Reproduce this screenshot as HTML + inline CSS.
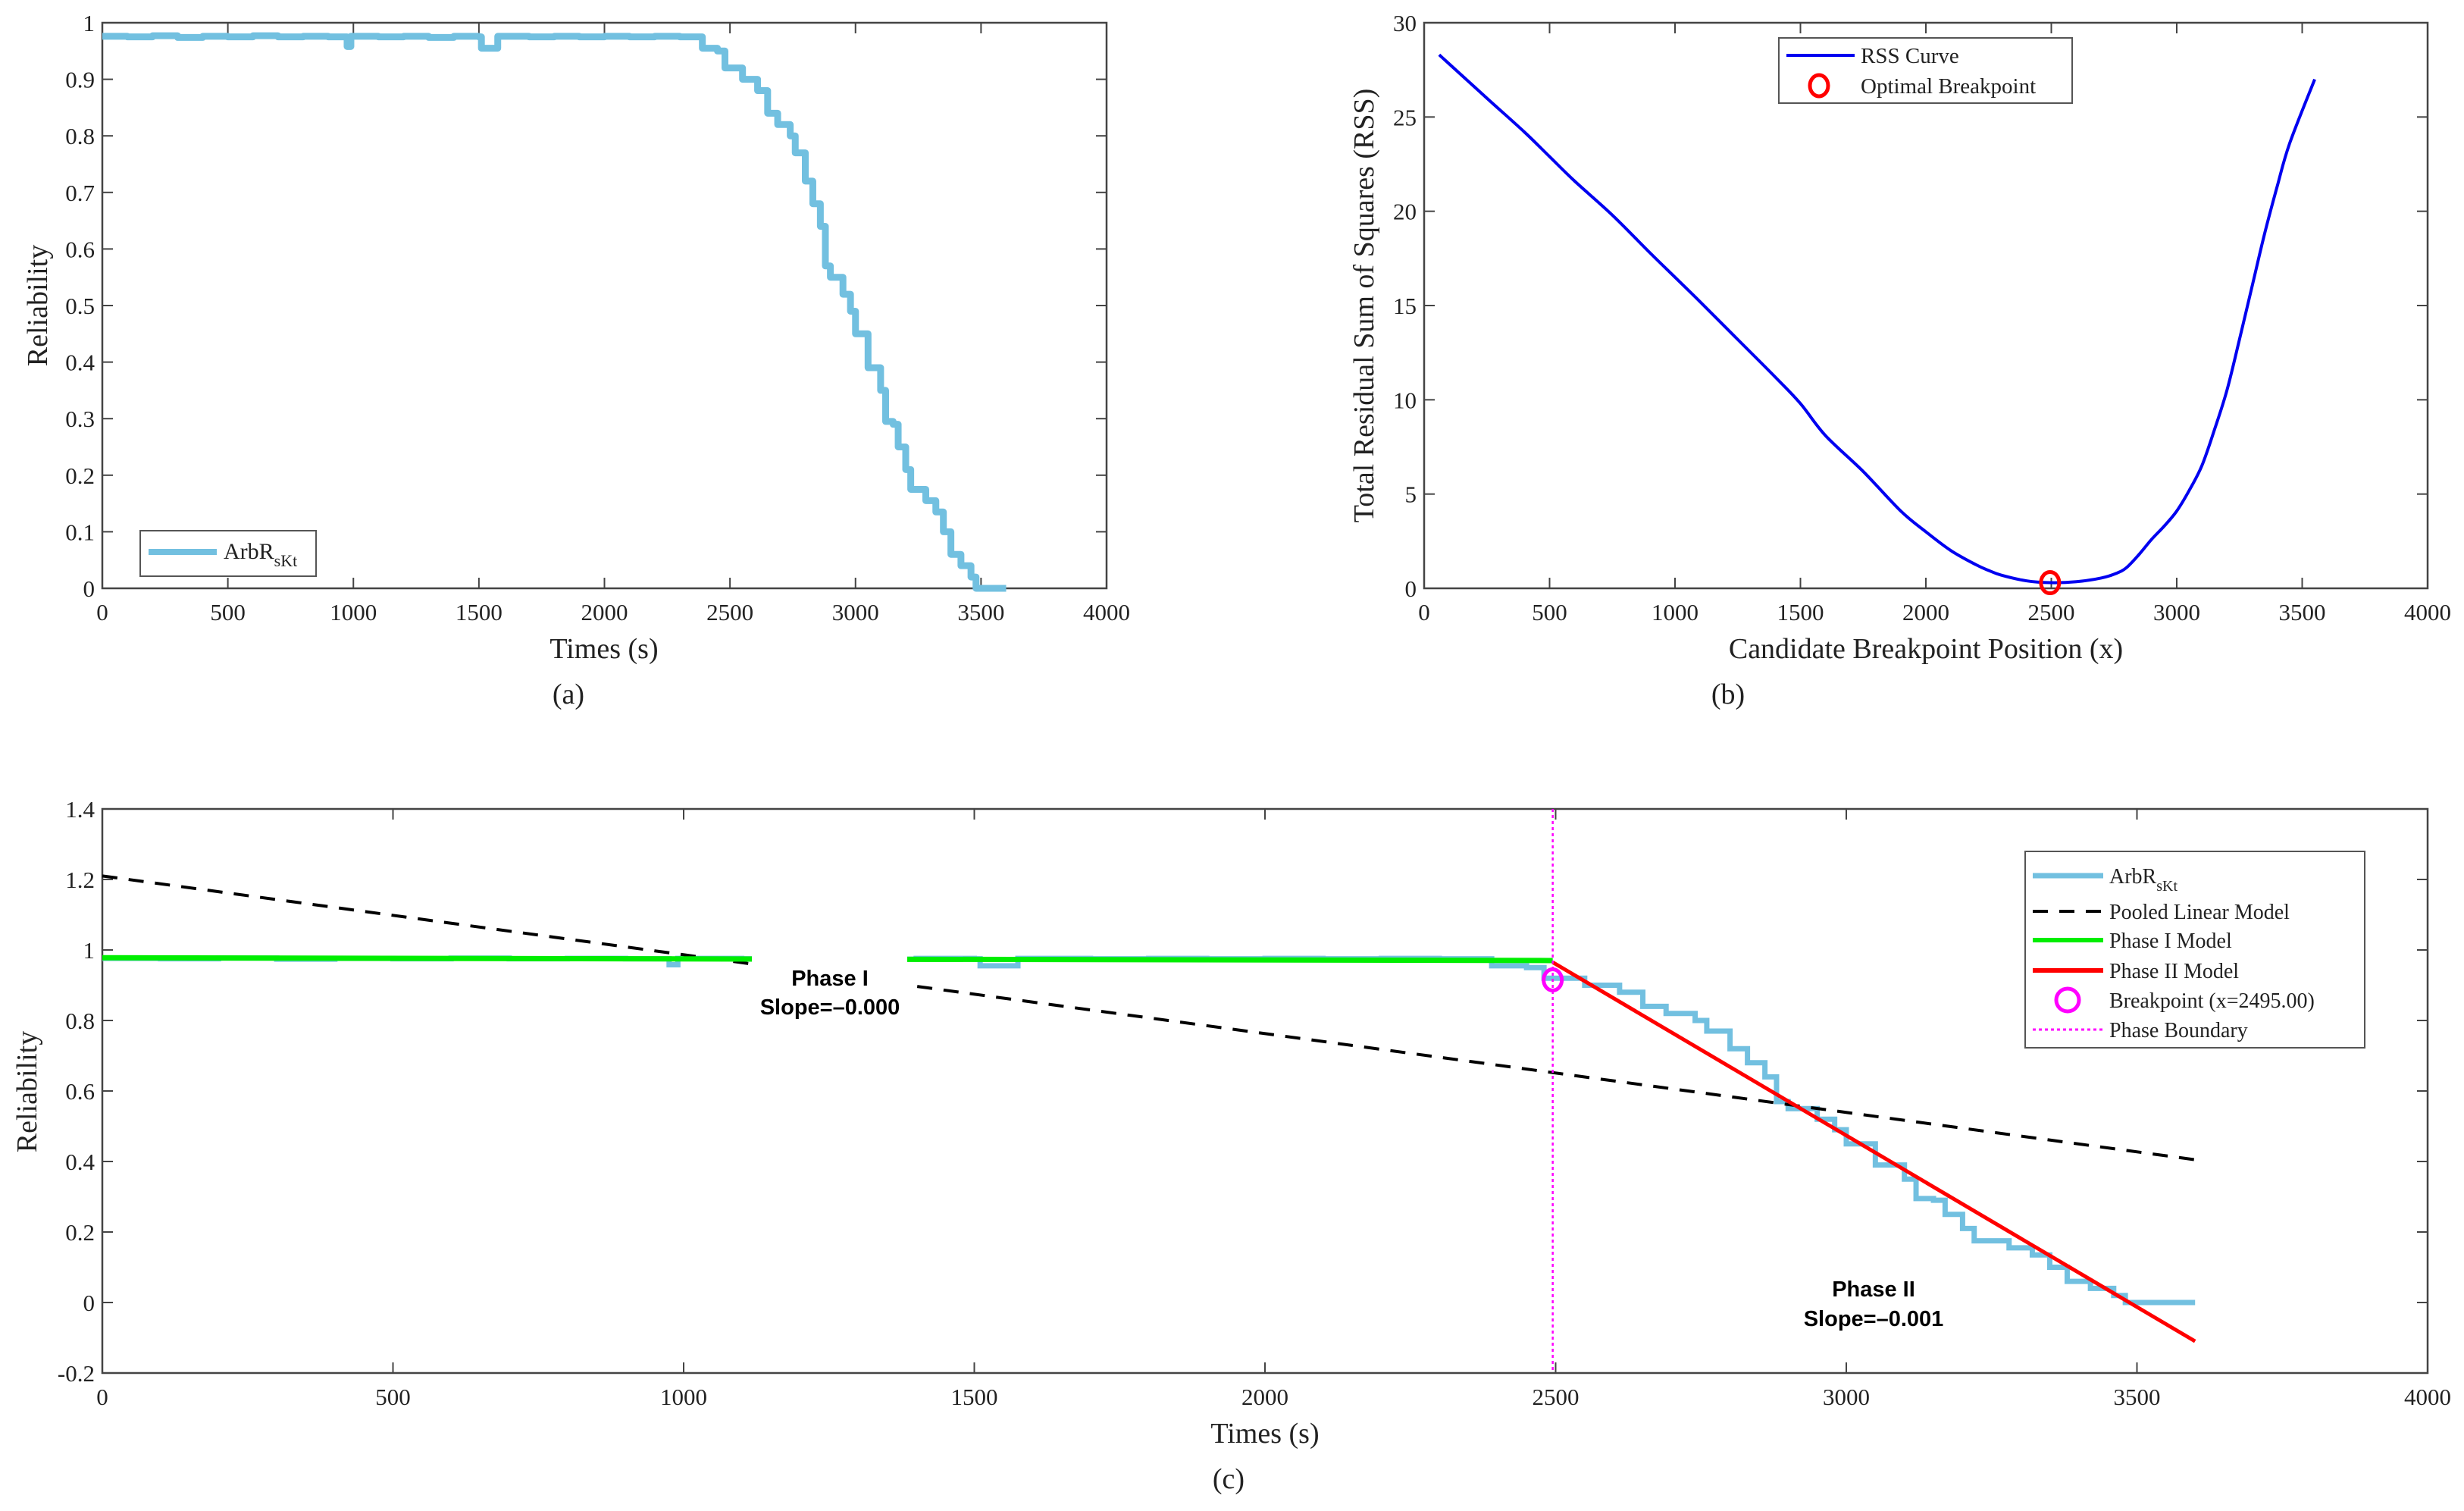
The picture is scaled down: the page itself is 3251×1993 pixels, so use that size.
<!DOCTYPE html>
<html><head><meta charset="utf-8"><style>
html,body{margin:0;padding:0;background:#fff;}
svg{display:block;}
text{font-family:"Liberation Serif",serif;fill:#222;}
.tk{font-size:31px;}
.ttl{font-size:38px;}
.bold{font-family:"Liberation Sans",sans-serif;font-weight:bold;font-size:29px;fill:#000;}
</style></head><body>
<svg id="fig" width="3251" height="1993" viewBox="0 0 3251 1993" xmlns="http://www.w3.org/2000/svg"></svg>
<script>
// ---- data ----
const relTimes = [0,100,200,300,400,500,600,700,800,900,960,975,990,1100,1200,1300,1400,1500,1510,1560,1575,1700,1800,1900,2000,2100,2200,2300,2380,2390,2450,2480,2550,2610,2650,2690,2740,2760,2800,2830,2860,2880,2900,2950,2980,3000,3050,3100,3120,3150,3170,3200,3220,3280,3320,3350,3380,3420,3460,3480,3600];
const relValues = [0.976,0.975,0.977,0.974,0.976,0.975,0.977,0.975,0.976,0.975,0.975,0.958,0.976,0.975,0.976,0.974,0.976,0.975,0.955,0.955,0.976,0.975,0.976,0.975,0.976,0.975,0.976,0.975,0.975,0.955,0.95,0.92,0.9,0.88,0.84,0.82,0.8,0.77,0.72,0.68,0.64,0.57,0.55,0.52,0.49,0.45,0.39,0.35,0.295,0.29,0.25,0.21,0.175,0.155,0.135,0.1,0.06,0.04,0.02,0,0];
const rssX = [60,250,400,500,600,750,900,1000,1100,1250,1400,1500,1600,1750,1900,2000,2100,2200,2250,2300,2400,2495,2600,2700,2760,2800,2850,2900,2950,3000,3050,3100,3150,3200,3250,3300,3350,3400,3450,3550];
const rssY = [28.3,26.0,24.2,22.9,21.6,19.8,17.8,16.5,15.2,13.2,11.2,9.8,8.1,6.2,4.1,3.0,2.0,1.25,0.95,0.7,0.4,0.3,0.35,0.55,0.8,1.1,1.8,2.6,3.3,4.1,5.2,6.5,8.4,10.5,13.2,16,18.8,21.3,23.6,27];
const xTicks = [0,500,1000,1500,2000,2500,3000,3500,4000];
const aYTicks = [0,0.1,0.2,0.3,0.4,0.5,0.6,0.7,0.8,0.9,1];
const bYTicks = [0,5,10,15,20,25,30];
const cYTicks = [-0.2,0,0.2,0.4,0.6,0.8,1,1.2,1.4];
const pooledX = [0,3600];
const pooledY = [1.21,0.405];
const phase1X = [0,2495];
const phase1Y = [0.978,0.97];
const phase2X = [2495,3600];
const phase2Y = [0.965,-0.11];
const breakX = 2495, breakY = 0.915, rssBreakVal = 0.3;

const NS="http://www.w3.org/2000/svg";
const svg=document.getElementById('fig');
function mk(tag,attrs,parent){const e=document.createElementNS(NS,tag);for(const k in attrs)e.setAttribute(k,attrs[k]);(parent||svg).appendChild(e);return e;}
function txt(s,attrs,parent){const e=mk('text',attrs,parent);e.textContent=s;return e;}
function axes(L,R,T,B,xmin,xmax,ymin,ymax){return {x:v=>L+(v-xmin)/(xmax-xmin)*(R-L),y:v=>B-(v-ymin)/(ymax-ymin)*(B-T),L,R,T,B};}
function frame(ax,g,xt,yt,fmtY){
  mk('rect',{x:ax.L,y:ax.T,width:ax.R-ax.L,height:ax.B-ax.T,fill:'none',stroke:'#444','stroke-width':2.5},g);
  xt.forEach(v=>{const X=ax.x(v);
    mk('line',{x1:X,x2:X,y1:ax.B,y2:ax.B-14,stroke:'#444','stroke-width':2},g);
    mk('line',{x1:X,x2:X,y1:ax.T,y2:ax.T+14,stroke:'#444','stroke-width':2},g);
    const t=txt(String(v),{x:X,y:ax.B+42,'text-anchor':'middle',class:'tk'},g);
    
    });
  yt.forEach(v=>{const Y=ax.y(v);
    mk('line',{x1:ax.L,x2:ax.L+14,y1:Y,y2:Y,stroke:'#444','stroke-width':2},g);
    mk('line',{x1:ax.R,x2:ax.R-14,y1:Y,y2:Y,stroke:'#444','stroke-width':2},g);
    const t=txt(fmtY(v),{x:ax.L-10,y:Y+11,'text-anchor':'end',class:'tk'},g);
    
    });
}
function stepPath(ax,xs,ys){let d='';for(let i=0;i<xs.length;i++){const X=ax.x(xs[i]),Y=ax.y(ys[i]);if(i===0)d+='M'+X+','+Y;else d+='H'+X+'V'+Y;}return d;}
function linePath(ax,xs,ys){return xs.map((v,i)=>(i?'L':'M')+ax.x(v)+','+ax.y(ys[i])).join('');}
function smoothPath(ax,xs,ys){
  const P=xs.map((v,i)=>[ax.x(v),ax.y(ys[i])]);let d='M'+P[0][0]+','+P[0][1];
  for(let i=0;i<P.length-1;i++){const p0=P[Math.max(0,i-1)],p1=P[i],p2=P[i+1],p3=P[Math.min(P.length-1,i+2)];
    const c1=[p1[0]+(p2[0]-p0[0])/6,p1[1]+(p2[1]-p0[1])/6],c2=[p2[0]-(p3[0]-p1[0])/6,p2[1]-(p3[1]-p1[1])/6];
    d+='C'+c1[0]+','+c1[1]+' '+c2[0]+','+c2[1]+' '+p2[0]+','+p2[1];}
  return d;}
const fmt=v=>String(Math.round(v*10)/10);

// ---- panel a ----
const ga=mk('g',{});
const A=axes(135,1460,30,776,0,4000,0,1);
frame(A,ga,xTicks,aYTicks,fmt);
const pa=mk('path',{d:stepPath(A,relTimes,relValues),fill:'none',stroke:'#72C0E0','stroke-width':9,'stroke-linejoin':'round'},ga);

txt('Times (s)',{x:797,y:868,'text-anchor':'middle',class:'ttl'},ga);
txt('(a)',{x:750,y:928,'text-anchor':'middle',class:'ttl'},ga);
txt('Reliability',{x:0,y:0,transform:'translate(62,403) rotate(-90)','text-anchor':'middle',class:'ttl'},ga);
const la=mk('g',{},ga);
mk('rect',{x:185,y:700,width:232,height:60,fill:'#fff',stroke:'#555','stroke-width':2},la);
mk('line',{x1:196,x2:286,y1:728,y2:728,stroke:'#72C0E0','stroke-width':8},la);
const lt=txt('ArbR',{x:295,y:737,style:'font-size:30px'},la);
const sub=mk('tspan',{dy:10,style:'font-size:22px'},lt);sub.textContent='sKt';

// ---- panel b ----
const gb=mk('g',{});
const B=axes(1879,3203,30,776,0,4000,0,30);
frame(B,gb,xTicks,bYTicks,v=>String(v));
const pb=mk('path',{d:smoothPath(B,rssX,rssY),fill:'none',stroke:'#0000F0','stroke-width':4},gb);

const ob=mk('ellipse',{cx:B.x(breakX),cy:B.y(rssBreakVal),rx:12,ry:14,fill:'none',stroke:'#F00','stroke-width':5},gb);

txt('Candidate Breakpoint Position (x)',{x:2541,y:868,'text-anchor':'middle',class:'ttl'},gb);
txt('(b)',{x:2280,y:928,'text-anchor':'middle',class:'ttl'},gb);
txt('Total Residual Sum of Squares (RSS)',{x:0,y:0,transform:'translate(1812,403) rotate(-90)','text-anchor':'middle',class:'ttl'},gb);
const lb=mk('g',{},gb);
mk('rect',{x:2347,y:50,width:387,height:86,fill:'#fff',stroke:'#555','stroke-width':2},lb);
mk('line',{x1:2357,x2:2447,y1:73,y2:73,stroke:'#0000F0','stroke-width':4},lb);
txt('RSS Curve',{x:2455,y:83,style:'font-size:29px'},lb);
mk('ellipse',{cx:2400,cy:113,rx:12,ry:14,fill:'none',stroke:'#F00','stroke-width':5},lb);
txt('Optimal Breakpoint',{x:2455,y:123,style:'font-size:29px'},lb);

// ---- panel c ----
const gc=mk('g',{});
const C=axes(135,3203,1067,1811,0,4000,-0.2,1.4);
frame(C,gc,xTicks,cYTicks,fmt);
const pc=mk('path',{d:stepPath(C,relTimes,relValues),fill:'none',stroke:'#72C0E0','stroke-width':7},gc);

const pp=mk('path',{d:linePath(C,pooledX,pooledY),fill:'none',stroke:'#000','stroke-width':4,'stroke-dasharray':'20,15'},gc);

const p1=mk('path',{d:linePath(C,phase1X,phase1Y),fill:'none',stroke:'#00EE00','stroke-width':7},gc);

const p2=mk('path',{d:linePath(C,phase2X,phase2Y),fill:'none',stroke:'#F00','stroke-width':5},gc);

const vb=mk('line',{x1:C.x(breakX),x2:C.x(breakX),y1:C.T,y2:C.B,stroke:'#F0F','stroke-width':2.5,'stroke-dasharray':'4,4'},gc);

const bm=mk('ellipse',{cx:C.x(breakX),cy:C.y(breakY),rx:12,ry:14,fill:'none',stroke:'#F0F','stroke-width':5},gc);

mk('rect',{x:992,y:1258,width:205,height:92,fill:'#fff'},gc);
txt('Phase I',{x:1095,y:1300,'text-anchor':'middle',class:'bold'},gc);
txt('Slope=\u20130.000',{x:1095,y:1338,'text-anchor':'middle',class:'bold'},gc);
txt('Phase II',{x:2472,y:1710,'text-anchor':'middle',class:'bold'},gc);
txt('Slope=\u20130.001',{x:2472,y:1749,'text-anchor':'middle',class:'bold'},gc);
txt('Times (s)',{x:1669,y:1903,'text-anchor':'middle',class:'ttl'},gc);
txt('(c)',{x:1621,y:1963,'text-anchor':'middle',class:'ttl'},gc);
txt('Reliability',{x:0,y:0,transform:'translate(48,1440) rotate(-90)','text-anchor':'middle',class:'ttl'},gc);
const lc=mk('g',{},gc);
mk('rect',{x:2672,y:1123,width:448,height:259,fill:'#fff',stroke:'#555','stroke-width':2},lc);
const rows=[1155,1202,1240,1280,1319,1358];
mk('line',{x1:2682,x2:2775,y1:rows[0],y2:rows[0],stroke:'#72C0E0','stroke-width':7},lc);
const lt2=txt('ArbR',{x:2783,y:rows[0]+10,style:'font-size:28px'},lc);
const s2=mk('tspan',{dy:10,style:'font-size:20px'},lt2);s2.textContent='sKt';
mk('line',{x1:2682,x2:2775,y1:rows[1],y2:rows[1],stroke:'#000','stroke-width':4,'stroke-dasharray':'20,15'},lc);
txt('Pooled Linear Model',{x:2783,y:rows[1]+10,style:'font-size:28px'},lc);
mk('line',{x1:2682,x2:2775,y1:rows[2],y2:rows[2],stroke:'#00EE00','stroke-width':6},lc);
txt('Phase I Model',{x:2783,y:rows[2]+10,style:'font-size:28px'},lc);
mk('line',{x1:2682,x2:2775,y1:rows[3],y2:rows[3],stroke:'#F00','stroke-width':6},lc);
txt('Phase II Model',{x:2783,y:rows[3]+10,style:'font-size:28px'},lc);
mk('ellipse',{cx:2728,cy:rows[4],rx:15,ry:15,fill:'none',stroke:'#F0F','stroke-width':5},lc);
txt('Breakpoint (x=2495.00)',{x:2783,y:rows[4]+10,style:'font-size:28px'},lc);
mk('line',{x1:2682,x2:2775,y1:rows[5],y2:rows[5],stroke:'#F0F','stroke-width':3,'stroke-dasharray':'4,4'},lc);
txt('Phase Boundary',{x:2783,y:rows[5]+10,style:'font-size:28px'},lc);
</script>
</body></html>
